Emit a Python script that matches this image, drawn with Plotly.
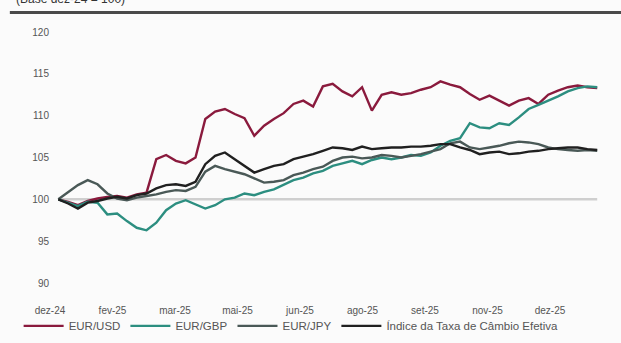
import pandas as pd
import plotly.graph_objects as go

# Weekly observations (dez-24 base = 100)
start_date = "2024-12-31"
end_date = "2026-01-23"

eur_usd = [100, 99.7, 99.3, 99.8, 100.1, 100.3, 100.4, 100.2, 100.6, 100.8,
           104.8, 105.3, 104.6, 104.3, 105.0, 109.6, 110.5, 110.8, 110.2, 109.7,
           107.6, 108.8, 109.6, 110.3, 111.4, 111.8, 111.1, 113.5, 113.8, 112.9,
           112.3, 113.4, 110.6, 112.5, 112.8, 112.5, 112.7, 113.1, 113.4, 114.1,
           113.7, 113.4, 112.6, 111.9, 112.4, 111.8, 111.2, 111.8, 112.1, 111.4,
           112.5, 113.0, 113.4, 113.6, 113.4, 113.3]

eur_gbp = [100, 99.6, 99.2, 99.7, 99.6, 98.2, 98.3, 97.4, 96.6, 96.3,
           97.2, 98.7, 99.5, 99.9, 99.4, 98.9, 99.3, 100.0, 100.2, 100.7,
           100.5, 100.9, 101.2, 101.8, 102.3, 102.6, 103.1, 103.4, 104.0, 104.3,
           104.6, 104.2, 104.7, 105.0, 104.8, 105.0, 105.3, 105.2, 105.6, 106.4,
           107.0, 107.3, 109.1, 108.6, 108.5, 109.1, 108.9, 109.8, 110.8, 111.3,
           111.8, 112.3, 112.9, 113.3, 113.5, 113.4]

eur_jpy = [100, 100.8, 101.7, 102.3, 101.8, 100.7, 100.1, 99.9, 100.2, 100.4,
           100.6, 100.9, 101.1, 101.0, 101.5, 103.3, 104.0, 103.6, 103.3, 103.0,
           102.5, 102.0, 102.1, 102.3, 102.9, 103.2, 103.6, 103.9, 104.6, 105.0,
           105.1, 104.9, 105.0, 105.3, 105.2, 105.0, 105.2, 105.4, 105.7, 106.0,
           106.7, 106.9, 106.2, 106.0, 106.2, 106.4, 106.7, 106.9, 106.8, 106.6,
           106.2, 106.0, 105.9, 105.8, 105.9, 105.8]

indice = [100, 99.5, 98.9, 99.6, 99.8, 100.1, 100.3, 100.1, 100.5, 100.7,
          101.3, 101.7, 101.8, 101.6, 102.1, 104.2, 105.2, 105.6, 104.8, 104.0,
          103.2, 103.6, 104.0, 104.2, 104.8, 105.1, 105.4, 105.8, 106.2, 106.1,
          105.9, 106.3, 106.0, 106.1, 106.2, 106.2, 106.3, 106.3, 106.4, 106.6,
          106.6, 106.2, 105.9, 105.4, 105.6, 105.7, 105.4, 105.5, 105.7, 105.8,
          106.0, 106.1, 106.2, 106.2, 106.0, 105.9]

base_level = 100

tick_dates = ["2024-12-25", "2025-02-08", "2025-03-25", "2025-05-09", "2025-06-23",
              "2025-08-07", "2025-09-21", "2025-11-05", "2025-12-20"]
tick_labels = ["dez-24", "fev-25", "mar-25", "mai-25", "jun-25",
               "ago-25", "set-25", "nov-25", "dez-25"]
y_ticks = [90, 95, 100, 105, 110, 115, 120]

dates = pd.date_range(start_date, end_date, periods=len(eur_usd))

fig = go.Figure()

# reference line at base level
fig.add_trace(go.Scatter(x=[dates[0], dates[-1]], y=[base_level, base_level],
                         mode="lines", line=dict(color="#cfcfcf", width=2.5),
                         showlegend=False, hoverinfo="skip"))

series = [
    ("EUR/USD", eur_usd, "#8a1a3d"),
    ("EUR/GBP", eur_gbp, "#2c8e80"),
    ("EUR/JPY", eur_jpy, "#4a5957"),
    ("Índice da Taxa de Câmbio Efetiva", indice, "#202020"),
]
for name, vals, col in series:
    fig.add_trace(go.Scatter(x=dates, y=vals, mode="lines", name=name,
                             line=dict(color=col, width=2.4)))

# header rule and cut-off subtitle
fig.add_shape(type="line", xref="paper", yref="paper",
              x0=-0.073, x1=1.04, y0=1.078, y1=1.078,
              line=dict(color="#4a4a4a", width=3))
fig.add_annotation(text="(Base dez-24 = 100)", xref="paper", yref="paper",
                   x=-0.065, y=1.095, xanchor="left", yanchor="bottom",
                   showarrow=False, font=dict(size=12, color="#333"))

fig.update_layout(
    width=621, height=343,
    margin=dict(l=50, r=21, t=32, b=60, autoexpand=False),
    paper_bgcolor="#fbfbfb", plot_bgcolor="#fbfbfb",
    font=dict(family="Liberation Sans, Arial, sans-serif", size=10, color="#555"),
    showlegend=True,
    legend=dict(orientation="h", x=0.03, y=0.05, xref="container", yref="container",
                xanchor="left", yanchor="middle",
                font=dict(size=11.5, color="#555"), itemwidth=40,
                bgcolor="rgba(0,0,0,0)", tracegroupgap=0),
    xaxis=dict(range=["2024-12-25", "2026-01-25"], tickvals=tick_dates,
               ticktext=tick_labels, showgrid=False, zeroline=False,
               showline=False, ticks="", ticklabelstandoff=20,
               tickfont=dict(size=10, color="#555")),
    yaxis=dict(range=[90, 120], tickvals=y_ticks, showgrid=False, zeroline=False,
               showline=False, ticks="", tickfont=dict(size=10, color="#555")),
)

fig.write_html("out.html")
